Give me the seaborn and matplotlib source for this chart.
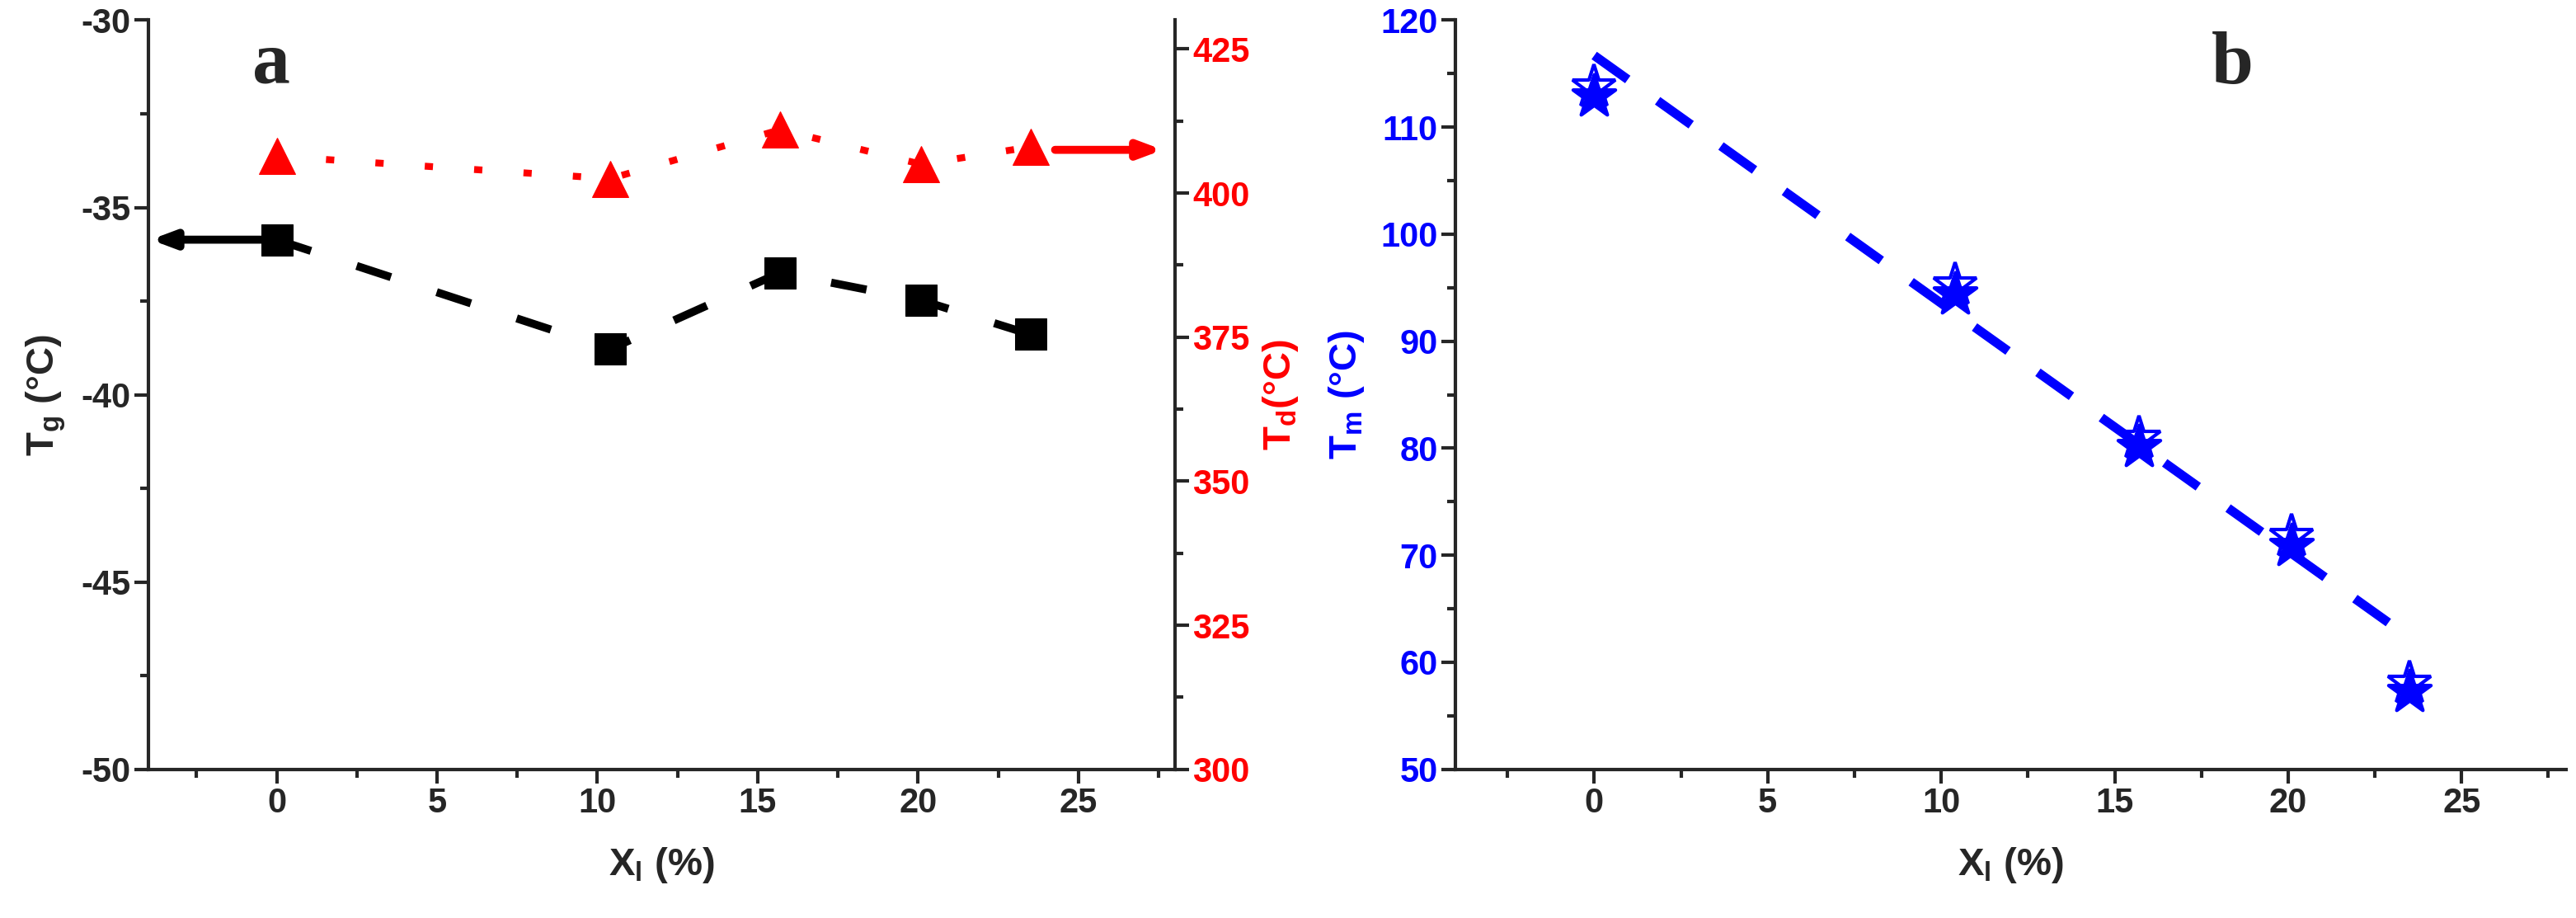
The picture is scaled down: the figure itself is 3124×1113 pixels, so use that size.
import matplotlib
matplotlib.use("Agg")
import matplotlib.pyplot as plt
import seaborn as sns
import pandas as pd
from matplotlib.ticker import MultipleLocator

xl = [0, 10.4, 15.7, 20.1, 23.5]
tg = [-35.86, -38.78, -36.74, -37.48, -38.39]
td = [406.4, 402.5, 411.0, 405.0, 408.0]
tm = [112.9, 94.4, 80.1, 70.9, 57.2]
fit_x = [0.0, 23.5]
fit_tm = [116.7, 62.3]

sns.set_style("ticks")
plt.rcParams['font.family'] = ['Liberation Sans', 'DejaVu Sans']
plt.rcParams['font.weight'] = 'bold'
plt.rcParams['mathtext.default'] = 'regular'
plt.rcParams['axes.unicode_minus'] = False

df = pd.DataFrame({"x": xl, "tg": tg, "td": td, "tm": tm})
fit = pd.DataFrame({"x": fit_x, "y": fit_tm})

fig = plt.figure(figsize=(31.24, 11.13), dpi=100)
ax1 = fig.add_axes([0.0576, 0.162, 0.3984, 0.816])
ax2 = ax1.twinx()
axb = fig.add_axes([0.565, 0.162, 0.431, 0.816])

TS = 30
LS = 34

def style(ax):
    ax.tick_params(axis='both', which='major', length=12, width=3, labelsize=TS, direction='out')
    ax.tick_params(axis='both', which='minor', length=7, width=3, direction='out')
    for lab in ax.get_xticklabels() + ax.get_yticklabels():
        lab.set_fontweight('bold')

# panel a
sns.lineplot(data=df, x="x", y="tg", ax=ax1, color='black', lw=7, marker='s', markersize=28,
             markeredgecolor='black')
ax1.lines[-1].set_dashes([4.5, 6])
sns.lineplot(data=df, x="x", y="td", ax=ax2, color='red', lw=6, marker='^', markersize=32,
             markeredgecolor='red')
ax2.lines[-1].set_dashes([1.2, 6])
ax1.set_xlim(-4, 28)
ax1.set_ylim(-50, -30)
ax2.set_ylim(300, 430)
ax1.xaxis.set_major_locator(MultipleLocator(5))
ax1.xaxis.set_minor_locator(MultipleLocator(2.5))
ax1.yaxis.set_major_locator(MultipleLocator(5))
ax1.yaxis.set_minor_locator(MultipleLocator(2.5))
ax2.yaxis.set_major_locator(MultipleLocator(25))
ax2.yaxis.set_minor_locator(MultipleLocator(12.5))
ax1.spines['top'].set_visible(False)
ax2.spines['top'].set_visible(False)
for s in ['left', 'bottom']:
    ax1.spines[s].set_linewidth(3)
ax2.spines['right'].set_linewidth(3)
ax2.spines['left'].set_visible(False)
ax2.spines['bottom'].set_visible(False)
style(ax1)
style(ax2)
for lab in ax2.get_yticklabels():
    lab.set_color('red'); lab.set_fontweight('bold')
ax1.set_xlabel("X$_l$ (%)", fontsize=LS, fontweight='bold', labelpad=22)
ax1.set_ylabel("T$_g$ (°C)", fontsize=LS, fontweight='bold', labelpad=12)
ax2.set_ylabel("T$_d$(°C)", fontsize=LS, fontweight='bold', color='red', labelpad=10)
ax1.annotate('', xy=(-4, tg[0]), xytext=(0, tg[0]), xycoords='data',
             arrowprops=dict(arrowstyle='-|>,head_length=1.6,head_width=0.6', color='black', lw=7))
ax2.annotate('', xy=(27.7, 407.5), xytext=(24.2, 407.5), xycoords='data',
             arrowprops=dict(arrowstyle='-|>,head_length=1.6,head_width=0.6', color='red', lw=7))
ax1.text(0.12, 0.94, 'a', transform=ax1.transAxes, fontsize=66, fontweight='bold',
         family='Liberation Serif', ha='center', va='center')

# panel b
sns.lineplot(data=fit, x="x", y="y", ax=axb, color='blue', lw=8)
axb.lines[-1].set_dashes([4.5, 4])
sns.scatterplot(data=df, x="x", y="tm", ax=axb, marker='*', s=1500, color='blue', edgecolor='blue', zorder=3)
axb.plot(df["x"], [v + 0.8 for v in df["tm"]], linestyle='none', marker='*', markersize=40,
         markerfacecolor='none', markeredgecolor='blue', markeredgewidth=3, zorder=4)
axb.set_xlim(-4, 28)
axb.set_ylim(50, 120)
axb.xaxis.set_major_locator(MultipleLocator(5))
axb.xaxis.set_minor_locator(MultipleLocator(2.5))
axb.yaxis.set_major_locator(MultipleLocator(10))
axb.yaxis.set_minor_locator(MultipleLocator(5))
sns.despine(ax=axb)
for s in ['left', 'bottom']:
    axb.spines[s].set_linewidth(3)
style(axb)
for lab in axb.get_yticklabels():
    lab.set_color('blue')
axb.set_xlabel("X$_l$ (%)", fontsize=LS, fontweight='bold', labelpad=22)
axb.set_ylabel("T$_m$ (°C)", fontsize=LS, fontweight='bold', color='blue', labelpad=12)
axb.text(0.70, 0.94, 'b', transform=axb.transAxes, fontsize=66, fontweight='bold',
         family='Liberation Serif', ha='center', va='center')

fig.savefig("out.png", dpi=100)
